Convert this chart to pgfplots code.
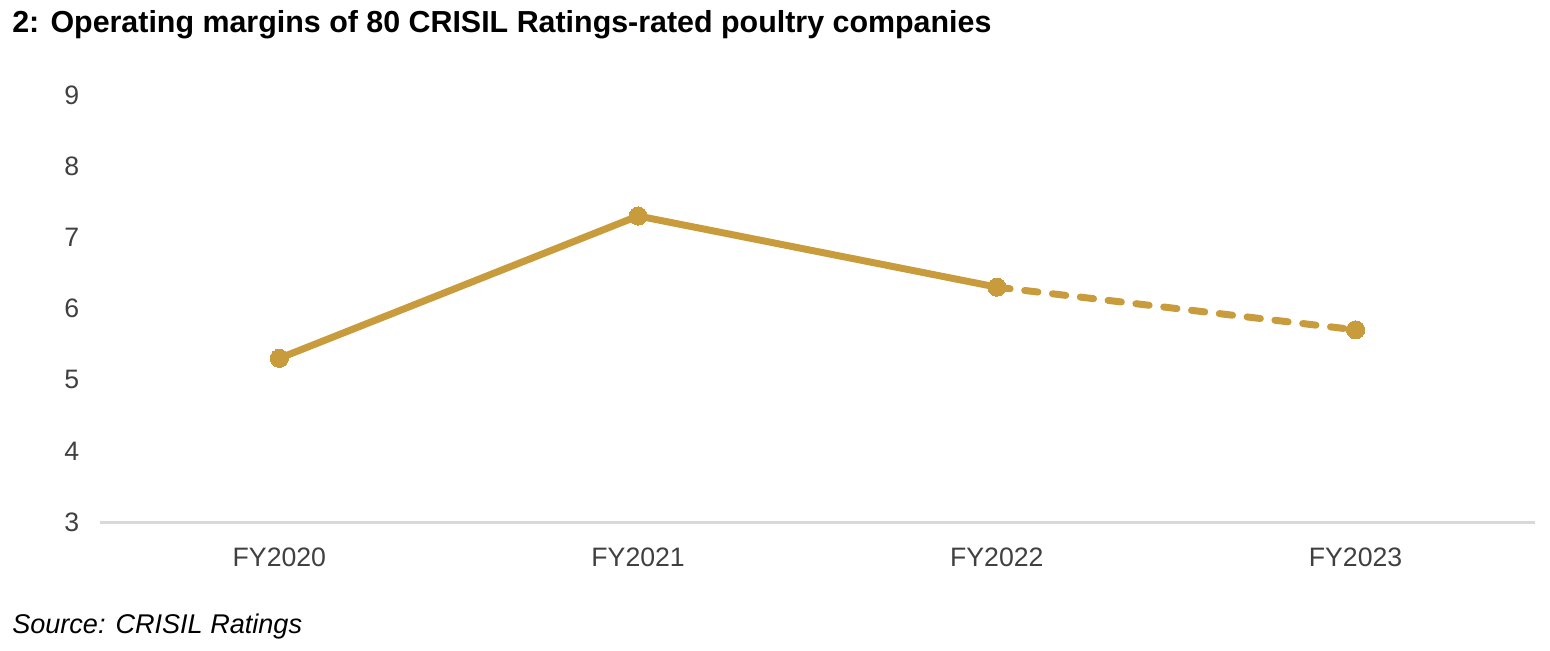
\documentclass[border=0pt]{standalone}
\usepackage{fontspec}
\setmainfont{Liberation Sans}
\usepackage{pgfplots}
\pgfplotsset{compat=1.18}
\definecolor{gold}{HTML}{C89B3C}
\definecolor{ticktext}{HTML}{404040}
\definecolor{baseline}{HTML}{D9D9D9}
\begin{document}
\begin{tikzpicture}[x=0.75pt,y=0.75pt]
% canvas 1550 x 650 px, axis lower-left at (100px, 522px from top)
\path[use as bounding box] (-100,-128) rectangle (1450,522);
\begin{axis}[
  at={(0,0)}, anchor=south west,
  scale only axis,
  width=1076.25pt, height=320.25pt,
  xmin=-0.5, xmax=3.5,
  ymin=3, ymax=9,
  xtick={0,1,2,3},
  xticklabels={FY2020,FY2021,FY2022,FY2023},
  ytick={3,4,5,6,7,8,9},
  axis x line=bottom, axis y line=left,
  x axis line style={draw=baseline, line width=2.25pt, -},
  y axis line style={draw=none},
  major tick length=0pt,
  tick style={draw=none},
  /pgf/number format/assume math mode=true,
  ticklabel style={font=\fontsize{20}{24}\selectfont, text=ticktext},
  yticklabel style={anchor=east, xshift=-12pt},
  xticklabel style={anchor=base, yshift=-33pt},
  clip=false,
]
\addplot[color=gold, line width=5.25pt, line join=round, mark=*, mark size=6.8pt,
  mark options={solid, fill=gold, draw=gold, line width=0pt}]
  coordinates {(0,5.3) (1,7.3) (2,6.3)};
\addplot[color=gold, line width=5.25pt, line cap=round, dash pattern=on 10pt off 11pt,
  mark=*, mark size=6.8pt, mark indices={2},
  mark options={solid, fill=gold, draw=gold, line width=0pt}]
  coordinates {(2,6.3) (3,5.7)};
\end{axis}
\node[anchor=base west, inner sep=0pt, font=\fontsize{22.8}{26}\selectfont\bfseries] at (-88,489) {2: Operating margins of 80 CRISIL Ratings-rated poultry companies};
\node[anchor=base west, inner sep=0pt, font=\fontsize{20.3}{24}\selectfont\itshape] at (-88,-111) {Source: CRISIL Ratings};
\end{tikzpicture}
\end{document}
